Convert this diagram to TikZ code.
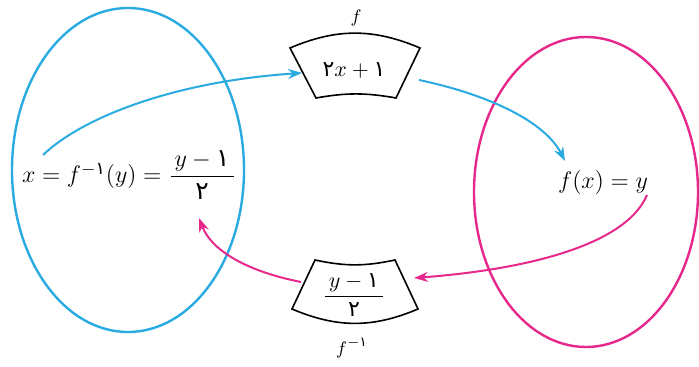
\documentclass[tikz,border=0pt]{standalone}
\usepackage{amsmath}
\usepackage{fontspec}
\usepackage{xcolor}
\usetikzlibrary{arrows.meta}
\newfontfamily\fadigits[Script=Arabic]{DejaVu Sans}
\newcommand{\fa}[1]{\text{\fadigits #1}}
\definecolor{setcyan}{HTML}{29ABE2}
\definecolor{setmagenta}{HTML}{E6288C}

\begin{document}
\begin{tikzpicture}[
    x=0.5pt, y=0.5pt,
    every node/.style={inner sep=1pt, font=\fontsize{12.5}{15}\selectfont},
    set/.style={line width=1.2pt},
    machine/.style={draw, line width=0.8pt, fill=white},
    rule/.style={font=\fontsize{11}{13}\selectfont},
    fname/.style={font=\fontsize{9.5}{11}\selectfont},
    map/.style={line width=1pt, -{Stealth[length=7pt, width=5pt]}}
]
\useasboundingbox (0,0) rectangle (699,367);
% the two sets
\draw[set, setcyan] (128,197) ellipse [x radius=116, y radius=162];
\draw[set, setmagenta] (586,175) ellipse [x radius=112, y radius=155];
% the two machines
\draw[machine] (290,319) to[bend left=23] (420,319) -- (396,269)
    to[bend right=10] (316,269) -- cycle;
\draw[machine] (315,107) to[bend right=12] (395,107) -- (418,58)
    to[bend left=23] (292,58) -- cycle;
\node[rule] (frule) at (354,297) {$\fa{۲}x+\fa{۱}$};
\node[rule] (ginvrule) at (354,72) {$\dfrac{\,y-\fa{۱}\,}{\fa{۲}}$};
\node[fname] (flabel) at (356,349) {$f$};
\node[fname] (ginvlabel) at (352,19) {$f^{-\fa{۱}}$};
% elements
\node (xelem) at (129,192) {$x=f^{-\fa{۱}}(y)=\dfrac{\,y-\fa{۱}\,}{\fa{۲}}$};
\node (yelem) at (603,184) {$f(x)=y$};
% connectors
\coordinate (xstart) at (43,212);
\coordinate (fin) at (302,294);
\coordinate (fout) at (419,287);
\coordinate (yend) at (565,206);
\coordinate (ystart) at (647,172);
\coordinate (ginvin) at (414,89);
\coordinate (ginvout) at (301,85);
\coordinate (xend) at (199,149);
\draw[map, setcyan] (xstart) .. controls (85,252) and (180,286) .. (fin);
\draw[map, setcyan] (fout) .. controls (490,272) and (545,245) .. (yend);
\draw[map, setmagenta] (ystart) .. controls (625,120) and (520,97) .. (ginvin);
\draw[map, setmagenta] (ginvout) .. controls (250,95) and (212,115) .. (xend);
\end{tikzpicture}
\end{document}
